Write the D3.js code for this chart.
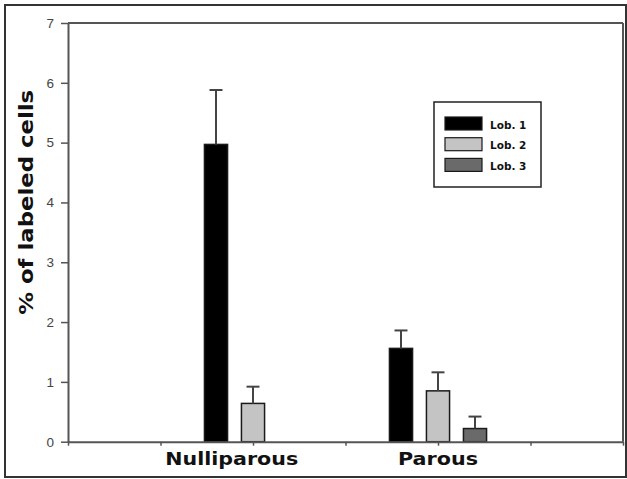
<!DOCTYPE html>
<html>
<head>
<meta charset="utf-8">
<script src="https://cdn.jsdelivr.net/npm/d3@7"></script>
<style>
  html, body { margin: 0; padding: 0; background: #fff; }
  svg { display: block; }
</style>
</head>
<body>
<svg id="chart" width="627" height="479"></svg>
<script>
// Groups along the x axis (numeric position on a 0..6 axis)
const groups = ["Nulliparous", "Parous"];
const groupPos = [2, 4];
// Series (lobule types)
const series = ["Lob. 1", "Lob. 2", "Lob. 3"];
const seriesColors = ["#000000", "#c4c4c4", "#6a6a6a"];
// Means per series, one value per group
const lob1 = [4.97, 1.56];
const lob2 = [0.64, 0.85];
const lob3 = [0, 0.22];
// Upper error (SEM) per series, one value per group
const lob1Err = [0.91, 0.30];
const lob2Err = [0.28, 0.31];
const lob3Err = [0, 0.20];
// Axis ticks
const yTicks = [0, 1, 2, 3, 4, 5, 6, 7];
const xTicks = [0, 1, 2, 3, 4, 5, 6];

const means = [lob1, lob2, lob3];
const errs = [lob1Err, lob2Err, lob3Err];

const svg = d3.select("#chart");
const W = 627, H = 479;
const m = { left: 68, right: 4, top: 23, bottom: 37.3 };

const x = d3.scaleLinear().domain([0, 6]).range([m.left, W - m.right]);
const y = d3.scaleLinear().domain([0, 7]).range([H - m.bottom, m.top]);

const axisColor = "#555";

// outer frame
svg.append("rect")
  .attr("x", 5).attr("y", 5)
  .attr("width", 621).attr("height", 472)
  .attr("fill", "none").attr("stroke", "#333").attr("stroke-width", 2);

// top and right frame of the plot area
svg.append("line")
  .attr("x1", x(0)).attr("x2", x(6)).attr("y1", y(7)).attr("y2", y(7))
  .attr("stroke", axisColor).attr("stroke-width", 2);
svg.append("line")
  .attr("x1", x(6)).attr("x2", x(6)).attr("y1", y(7)).attr("y2", y(0))
  .attr("stroke", axisColor).attr("stroke-width", 2);

// bars: three per group, the middle one centred on the group position
const barOffset = [-0.4, 0, 0.4];
const barWidth = 0.25;
const bars = [];
series.forEach((s, si) => {
  groups.forEach((g, gi) => {
    bars.push({ s: si, g: gi, v: means[si][gi], e: errs[si][gi] });
  });
});
const drawn = bars.filter(d => d.v > 0);

const barG = svg.append("g");
barG.selectAll("rect").data(drawn).join("rect")
  .attr("x", d => x(groupPos[d.g] + barOffset[d.s] - barWidth / 2))
  .attr("width", d => x(barWidth) - x(0))
  .attr("y", d => y(d.v))
  .attr("height", d => y(0) - y(d.v))
  .attr("fill", d => seriesColors[d.s])
  .attr("stroke", "#1a1a1a").attr("stroke-width", 1.5);

// upward error bars with caps
const capHalf = 0.07;
const errG = svg.append("g").attr("stroke", "#444").attr("stroke-width", 2);
errG.selectAll("line.stem").data(drawn).join("line").attr("class", "stem")
  .attr("x1", d => x(groupPos[d.g] + barOffset[d.s]))
  .attr("x2", d => x(groupPos[d.g] + barOffset[d.s]))
  .attr("y1", d => y(d.v))
  .attr("y2", d => y(d.v + d.e));
errG.selectAll("line.cap").data(drawn).join("line").attr("class", "cap")
  .attr("x1", d => x(groupPos[d.g] + barOffset[d.s] - capHalf))
  .attr("x2", d => x(groupPos[d.g] + barOffset[d.s] + capHalf))
  .attr("y1", d => y(d.v + d.e))
  .attr("y2", d => y(d.v + d.e));

// y axis
const yAxis = svg.append("g")
  .attr("transform", `translate(${x(0)},0)`)
  .call(d3.axisLeft(y).tickValues(yTicks).tickFormat(d3.format("d"))
    .tickSize(7).tickSizeOuter(0).tickPadding(7));
yAxis.select(".domain").attr("stroke", axisColor).attr("stroke-width", 2);
yAxis.selectAll(".tick line").attr("stroke", axisColor).attr("stroke-width", 1.5);
yAxis.selectAll(".tick text")
  .attr("font-family", "Arial, 'Liberation Sans', sans-serif")
  .attr("font-size", 13.5).attr("fill", "#444");

// x axis
const xAxis = svg.append("g")
  .attr("transform", `translate(0,${y(0)})`)
  .call(d3.axisBottom(x).tickValues(xTicks).tickFormat("").tickSize(4).tickSizeOuter(0));
xAxis.select(".domain").attr("stroke", axisColor).attr("stroke-width", 2);
xAxis.selectAll(".tick line").attr("stroke", axisColor).attr("stroke-width", 1.5);

// category labels
const labelShift = [-0.23, 0];
const labelLen = [133, 80];
svg.append("g").selectAll("text").data(groups).join("text")
  .attr("x", (d, i) => x(groupPos[i] + labelShift[i]))
  .attr("y", 465)
  .attr("text-anchor", "middle")
  .attr("font-family", "'DejaVu Sans', Verdana, sans-serif")
  .attr("font-weight", "bold")
  .attr("font-size", 18)
  .attr("textLength", (d, i) => labelLen[i])
  .attr("lengthAdjust", "spacingAndGlyphs")
  .attr("fill", "#111")
  .text(d => d);

// y axis title
svg.append("text")
  .attr("transform", `translate(33,${(y(0) + y(7)) / 2 - 30}) rotate(-90)`)
  .attr("text-anchor", "middle")
  .attr("font-family", "'DejaVu Sans', Verdana, sans-serif")
  .attr("font-weight", "bold")
  .attr("font-size", 20)
  .attr("textLength", 225)
  .attr("lengthAdjust", "spacingAndGlyphs")
  .attr("fill", "#111")
  .text("% of labeled cells");

// legend
const lg = svg.append("g").attr("transform", "translate(434,102)");
lg.append("rect")
  .attr("width", 107).attr("height", 85)
  .attr("fill", "#fff").attr("stroke", "#222").attr("stroke-width", 1.5);
const items = lg.selectAll("g.item").data(series).join("g").attr("class", "item")
  .attr("transform", (d, i) => `translate(11,${15 + i * 20.7})`);
items.append("rect")
  .attr("width", 37).attr("height", 13)
  .attr("fill", (d, i) => seriesColors[i])
  .attr("stroke", "#1a1a1a").attr("stroke-width", 1.2);
items.append("text")
  .attr("x", 45).attr("y", 11.5)
  .attr("font-family", "'DejaVu Sans', Verdana, sans-serif")
  .attr("font-weight", "bold")
  .attr("font-size", 10.5)
  .attr("fill", "#111")
  .text(d => d);
</script>
</body>
</html>
